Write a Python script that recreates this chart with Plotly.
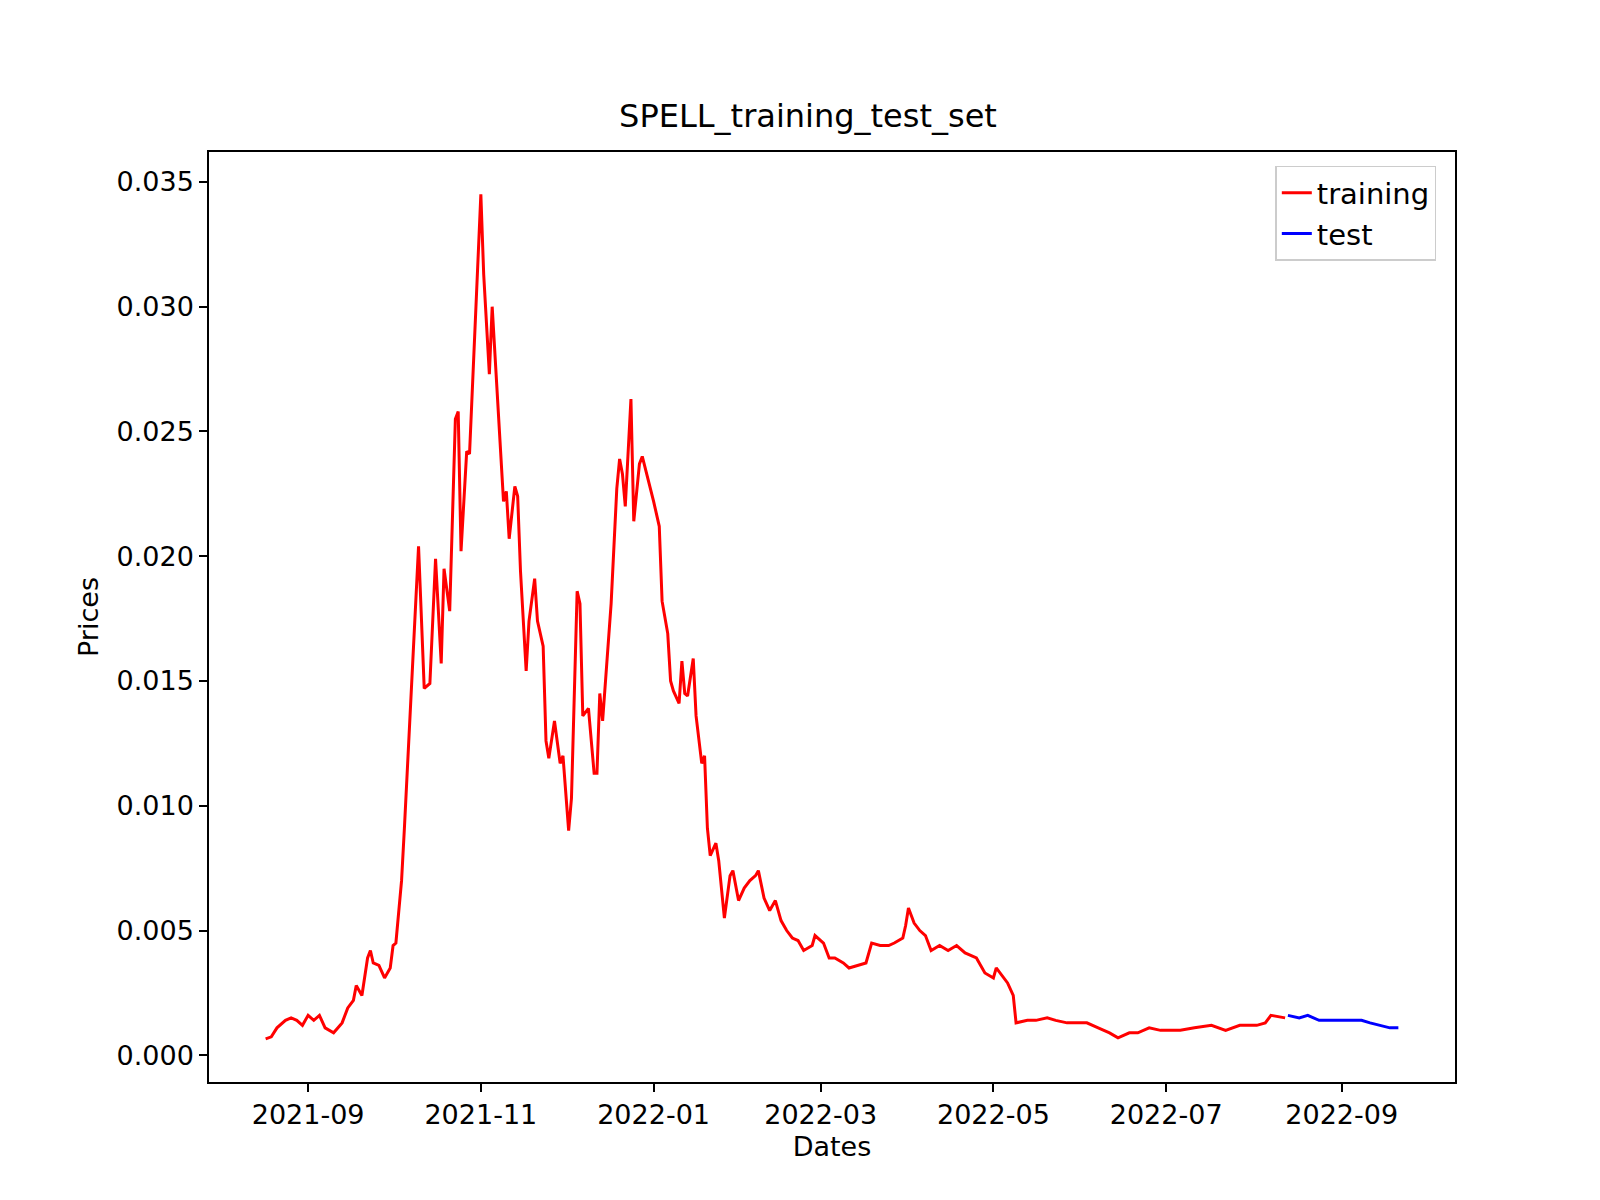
import plotly.graph_objects as go

train_dates = ["2021-08-17","2021-08-19","2021-08-21","2021-08-23","2021-08-24","2021-08-26","2021-08-28","2021-08-30",
"2021-09-01","2021-09-03","2021-09-05","2021-09-07","2021-09-10","2021-09-13","2021-09-15","2021-09-17","2021-09-18",
"2021-09-20","2021-09-22","2021-09-23","2021-09-24","2021-09-26","2021-09-28","2021-09-30","2021-10-01","2021-10-02",
"2021-10-04","2021-10-05","2021-10-06","2021-10-08","2021-10-10","2021-10-12","2021-10-14","2021-10-16","2021-10-18",
"2021-10-19","2021-10-21","2021-10-23","2021-10-24","2021-10-25","2021-10-27","2021-10-28","2021-10-30","2021-11-01",
"2021-11-02","2021-11-04","2021-11-05","2021-11-09","2021-11-10","2021-11-11","2021-11-13","2021-11-14","2021-11-15",
"2021-11-17","2021-11-18","2021-11-20","2021-11-21","2021-11-23","2021-11-24","2021-11-25","2021-11-27","2021-11-29",
"2021-11-30","2021-12-02","2021-12-03","2021-12-05","2021-12-06","2021-12-07","2021-12-09","2021-12-11","2021-12-12",
"2021-12-13","2021-12-14","2021-12-16","2021-12-17","2021-12-19","2021-12-20","2021-12-21","2021-12-22","2021-12-24",
"2021-12-25","2021-12-27","2021-12-28","2022-01-01","2022-01-03","2022-01-04","2022-01-06","2022-01-07","2022-01-08",
"2022-01-10","2022-01-11","2022-01-12","2022-01-13","2022-01-15","2022-01-16","2022-01-18","2022-01-19","2022-01-20",
"2022-01-21","2022-01-23","2022-01-24","2022-01-26","2022-01-28","2022-01-29","2022-01-31","2022-02-02","2022-02-04",
"2022-02-06","2022-02-07","2022-02-09","2022-02-11","2022-02-13","2022-02-15","2022-02-17","2022-02-19","2022-02-21",
"2022-02-23","2022-02-26","2022-02-27","2022-03-02","2022-03-04","2022-03-06","2022-03-09","2022-03-11","2022-03-14",
"2022-03-17","2022-03-19","2022-03-22","2022-03-25","2022-03-27","2022-03-30","2022-03-31","2022-04-01","2022-04-03",
"2022-04-05","2022-04-07","2022-04-09","2022-04-12","2022-04-15","2022-04-18","2022-04-21","2022-04-25","2022-04-28",
"2022-05-01","2022-05-02","2022-05-04","2022-05-06","2022-05-08","2022-05-09","2022-05-13","2022-05-16","2022-05-20",
"2022-05-23","2022-05-27","2022-05-31","2022-06-03","2022-06-07","2022-06-11","2022-06-14","2022-06-18","2022-06-21",
"2022-06-25","2022-06-29","2022-07-02","2022-07-06","2022-07-11","2022-07-17","2022-07-22","2022-07-27","2022-08-02",
"2022-08-05","2022-08-07","2022-08-12"]
train_prices = [0.00066,0.00074,0.0011,0.0013,0.0014,0.0015,0.0014,0.0012,
0.0016,0.0014,0.0016,0.0011,0.0009,0.0013,0.0019,0.0022,0.0028,
0.0024,0.0039,0.0042,0.0037,0.0036,0.0031,0.0035,0.0044,0.0045,
0.0070,0.0091,0.0113,0.0160,0.0204,0.0147,0.0149,0.0199,0.0157,
0.0195,0.0178,0.0255,0.0258,0.0202,0.0242,0.0241,0.0294,0.0345,
0.0313,0.0273,0.0300,0.0222,0.0226,0.0207,0.0228,0.0224,0.0194,
0.0154,0.0174,0.0191,0.0174,0.0164,0.0126,0.0119,0.0134,0.0117,
0.0120,0.0090,0.0103,0.0186,0.0181,0.0136,0.0139,0.0113,0.0113,
0.0145,0.0134,0.0167,0.0181,0.0227,0.0239,0.0233,0.0220,0.0263,
0.0214,0.0237,0.0240,0.0222,0.0212,0.0182,0.0169,0.0150,0.0146,
0.0141,0.0158,0.0145,0.0144,0.0159,0.0136,0.0117,0.0120,0.0091,
0.0080,0.0085,0.0078,0.0055,0.0072,0.0074,0.0062,0.0067,0.0070,
0.0072,0.0074,0.0063,0.0058,0.0062,0.0054,0.0050,0.0047,0.0046,
0.0042,0.0044,0.0048,0.0045,0.0039,0.0039,0.0037,0.0035,0.0036,
0.0037,0.0045,0.0044,0.0044,0.0045,0.0047,0.0052,0.0059,0.0053,
0.0050,0.0048,0.0042,0.0044,0.0042,0.0044,0.0041,0.0039,0.0033,
0.0031,0.0035,0.0032,0.0029,0.0024,0.0013,0.0014,0.0014,0.0015,
0.0014,0.0013,0.0013,0.0013,0.0011,0.0009,0.0007,0.0009,0.0009,
0.0011,0.0010,0.0010,0.0010,0.0011,0.0012,0.0010,0.0012,0.0012,
0.0013,0.0016,0.0015]

test_dates = ["2022-08-13","2022-08-17","2022-08-20","2022-08-24","2022-08-31","2022-09-08","2022-09-11","2022-09-15","2022-09-18","2022-09-21"]
test_prices = [0.0016,0.0015,0.0016,0.0014,0.0014,0.0014,0.0013,0.0012,0.0011,0.0011]

tick_vals = ["2021-09-01","2021-11-01","2022-01-01","2022-03-01","2022-05-01","2022-07-01","2022-09-01"]
tick_text = ["2021-09","2021-11","2022-01","2022-03","2022-05","2022-07","2022-09"]

fig = go.Figure()
fig.add_trace(go.Scatter(x=train_dates, y=train_prices, mode="lines", name="training", line=dict(color="red", width=3)))
fig.add_trace(go.Scatter(x=test_dates, y=test_prices, mode="lines", name="test", line=dict(color="blue", width=3)))

axis_common = dict(showline=True, linecolor="black", linewidth=1.5, mirror=True, ticks="outside",
                   ticklen=8, tickwidth=1.5, tickcolor="black", showgrid=False, zeroline=False,
                   tickfont=dict(size=27, color="black"))
fig.update_layout(
    width=1600, height=1200, plot_bgcolor="white", paper_bgcolor="white",
    font=dict(family="DejaVu Sans", color="black"),
    margin=dict(l=201, r=153, t=144, b=126),
    title=dict(text="SPELL_training_test_set", x=0.5, xanchor="center", y=0.91, yanchor="middle", font=dict(size=32)),
    xaxis=dict(range=["2021-07-28", "2022-10-11"], tickvals=tick_vals, ticktext=tick_text,
               title=dict(text="Dates", font=dict(size=27), standoff=8), **axis_common),
    yaxis=dict(range=[-0.00107, 0.0362], tickvals=[0, 0.005, 0.01, 0.015, 0.02, 0.025, 0.03, 0.035],
               tickformat=".3f", title=dict(text="Prices", font=dict(size=27), standoff=10), **axis_common),
    legend=dict(x=0.985, y=0.985, xanchor="right", yanchor="top", bordercolor="#cccccc", borderwidth=1.5,
                font=dict(size=29), bgcolor="white", tracegroupgap=8),
)
fig.write_html("out.html")
